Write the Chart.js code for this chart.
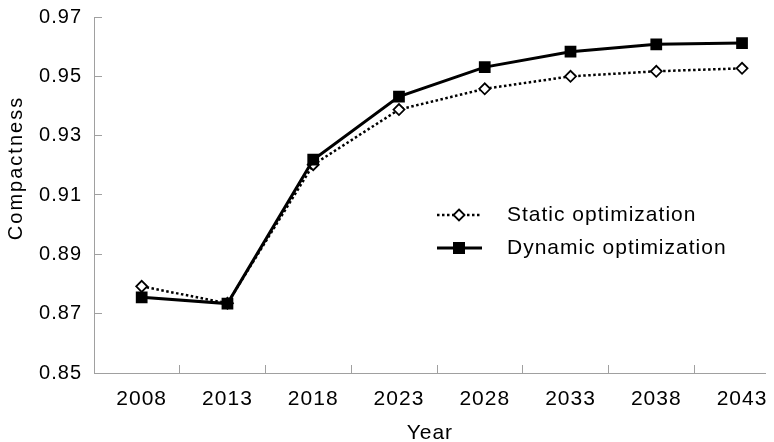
<!DOCTYPE html>
<html lang="en">
<head>
    <meta charset="UTF-8">
    <title>Compactness</title>
    <script src="https://cdn.jsdelivr.net/npm/chart.js"></script>
    <style>
        body { margin: 0; background: #fff; }
    </style>
</head>
<body>
    <canvas id="compactChart" width="774" height="442"></canvas>

    <script>
        // values
        var years = [2008, 2013, 2018, 2023, 2028, 2033, 2038, 2043];
        var staticOpt = [0.8792, 0.8735, 0.9202, 0.9388, 0.9458, 0.9500, 0.9517, 0.9527];
        var dynamicOpt = [0.8755, 0.8734, 0.9219, 0.9432, 0.9531, 0.9583, 0.9608, 0.9612];
        var yTicks = [0.85, 0.87, 0.89, 0.91, 0.93, 0.95, 0.97];

        var FONT = "'Liberation Sans', Arial, sans-serif";
        var AXIS = '#a0a0a0';

        // x runs a bit past the first/last year, marks sit between the years
        var xMin = 2005.22, xMax = 2044.38;
        var boundaries = [];
        for (var b = xMin; b < xMax; b += 5) boundaries.push(b);

        function pts(vals) {
            return years.map(function (y, i) { return { x: y, y: vals[i] }; });
        }

        function spacing(chart) {
            chart.ctx.letterSpacing = '1px';
        }

        // no extra room for overhanging labels, the box is fixed
        function noPad(s) {
            s.paddingLeft = 0; s.paddingRight = 0;
            s.paddingTop = 0; s.paddingBottom = 0;
        }

        var extras = {
            id: 'extras',
            beforeLayout: spacing,
            beforeDraw: spacing,
            afterDraw: function (chart) {
                var ctx = chart.ctx;
                ctx.save();
                ctx.fillStyle = '#000';
                ctx.font = '20px ' + FONT;
                ctx.letterSpacing = '2px';
                ctx.textAlign = 'center';
                ctx.textBaseline = 'middle';
                ctx.translate(16, 168);
                ctx.rotate(-Math.PI / 2);
                ctx.fillText('Compactness', 0, 0);
                ctx.restore();

                // legend
                var rows = [215, 248];
                chart.data.datasets.forEach(function (ds, i) {
                    var y = rows[i];
                    ctx.save();
                    ctx.strokeStyle = '#000';
                    ctx.lineWidth = ds.borderWidth;
                    ctx.setLineDash(ds.borderDash || []);
                    ctx.beginPath();
                    ctx.moveTo(437, y);
                    ctx.lineTo(482, y);
                    ctx.stroke();
                    ctx.setLineDash([]);
                    if (ds.pointStyle === 'rect') {
                        ctx.fillStyle = '#000';
                        ctx.fillRect(453, y - 6, 12, 12);
                    } else {
                        ctx.fillStyle = '#fff';
                        ctx.lineWidth = ds.pointBorderWidth;
                        ctx.beginPath();
                        ctx.moveTo(459, y - 5.5);
                        ctx.lineTo(464.5, y);
                        ctx.lineTo(459, y + 5.5);
                        ctx.lineTo(453.5, y);
                        ctx.closePath();
                        ctx.fill();
                        ctx.stroke();
                    }
                    ctx.fillStyle = '#000';
                    ctx.font = '21px ' + FONT;
                    ctx.letterSpacing = '1px';
                    ctx.textAlign = 'left';
                    ctx.textBaseline = 'middle';
                    ctx.fillText(ds.label, 507, y);
                    ctx.restore();
                });
            }
        };

        var ctx = document.getElementById('compactChart').getContext('2d');
        var chart = new Chart(ctx, {
            type: 'line',
            data: {
                datasets: [{
                    label: 'Static optimization',
                    data: pts(staticOpt),
                    borderColor: '#000',
                    borderWidth: 2.5,
                    borderDash: [2.5, 2.5],
                    pointStyle: 'rectRot',
                    pointRadius: 5.5,
                    pointBackgroundColor: '#fff',
                    pointBorderColor: '#000',
                    pointBorderWidth: 1.8,
                    tension: 0,
                    order: 1
                }, {
                    label: 'Dynamic optimization',
                    data: pts(dynamicOpt),
                    borderColor: '#000',
                    borderWidth: 3,
                    pointStyle: 'rect',
                    pointRadius: 8.3,
                    pointBackgroundColor: '#000',
                    pointBorderColor: '#000',
                    pointBorderWidth: 0,
                    tension: 0,
                    order: 0
                }]
            },
            options: {
                responsive: false,
                animation: false,
                layout: { padding: { top: 17, right: 0, bottom: 0, left: 0 } },
                plugins: {
                    legend: { display: false },
                    tooltip: { enabled: false }
                },
                scales: {
                    x: {
                        type: 'linear',
                        min: xMin,
                        max: xMax,
                        afterBuildTicks: function (s) {
                            s.ticks = boundaries.concat(years)
                                .sort(function (a, b) { return a - b; })
                                .map(function (v) { return { value: v }; });
                        },
                        afterFit: function (s) { s.height = 69; noPad(s); },
                        ticks: {
                            autoSkip: false,
                            maxRotation: 0,
                            color: '#000',
                            padding: 22,
                            font: { family: FONT, size: 21 },
                            callback: function (v) {
                                return years.indexOf(v) >= 0 ? String(v) : '';
                            }
                        },
                        grid: {
                            drawOnChartArea: false,
                            tickLength: -8,
                            color: function (c) {
                                return c.tick && years.indexOf(c.tick.value) >= 0 ? 'rgba(0,0,0,0)' : AXIS;
                            }
                        },
                        border: { color: AXIS },
                        title: {
                            display: true,
                            text: 'Year',
                            color: '#000',
                            font: { family: FONT, size: 21 },
                            padding: { top: 0, bottom: -4 }
                        }
                    },
                    y: {
                        min: yTicks[0],
                        max: yTicks[yTicks.length - 1],
                        afterBuildTicks: function (s) {
                            s.ticks = yTicks.map(function (v) { return { value: v }; });
                        },
                        afterFit: function (s) { s.width = 94; noPad(s); },
                        ticks: {
                            color: '#000',
                            padding: 20,
                            font: { family: FONT, size: 20 },
                            callback: function (v) { return v.toFixed(2); }
                        },
                        grid: {
                            drawOnChartArea: false,
                            tickLength: -8,
                            color: AXIS
                        },
                        border: { color: AXIS }
                    }
                }
            },
            plugins: [extras]
        });
    </script>
</body>
</html>
